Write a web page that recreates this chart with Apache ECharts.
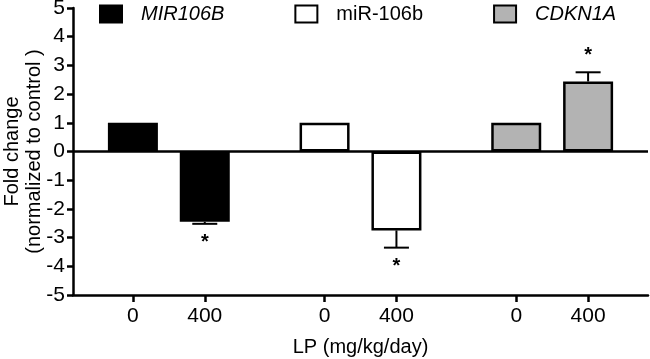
<!DOCTYPE html>
<html>
<head>
<meta charset="utf-8">
<script src="https://cdn.jsdelivr.net/npm/echarts@6/dist/echarts.min.js"></script>
<style>
  html, body { margin: 0; padding: 0; background: #fff; }
  #chart { width: 650px; height: 359px; }
</style>
</head>
<body>
<div id="chart"></div>
<script>
// values
const genes = ['MIR106B', 'miR-106b', 'CDKN1A'];
const italicGenes = ['MIR106B', 'CDKN1A'];
const doses = ['0', '400'];
const controlValues = [1, 1, 1];
const treatedValues = [-2.45, -2.75, 2.44];
const treatedErrors = [0.07, 0.6, 0.32];
const significant = [true, true, true];
const fills = ['#000000', '#ffffff', '#b3b3b3'];

// slot layout along x (each gene group takes 8 slots, bars sit mid-slot)
const slotsPerGroup = 8;
const firstSlot = 2;
const doseStep = 3;
const slotCount = genes.length * slotsPerGroup;

const posOf = (g, d) => g * slotsPerGroup + firstSlot + d * doseStep + 0.5;

const tickPositions = [];
const tickNames = {};
genes.forEach((g, gi) => {
    doses.forEach((d, di) => {
        tickPositions.push(posOf(gi, di));
        tickNames[posOf(gi, di)] = d;
    });
});

const font = "'Liberation Sans', Arial, sans-serif";

const barSeries = genes.map((name, gi) => {
    const s = {
        name: name,
        type: 'bar',
        data: [[posOf(gi, 0), controlValues[gi]], [posOf(gi, 1), treatedValues[gi]]],
        barWidth: 50,
        barGap: '-100%',
        itemStyle: { color: fills[gi], borderColor: '#000', borderWidth: 2.5 }
    };
    if (gi === 0) {
        s.markLine = {
            silent: true,
            symbol: 'none',
            label: { show: false },
            lineStyle: { color: '#000', width: 2.5, type: 'solid' },
            data: [{ yAxis: 0 }]
        };
    }
    return s;
});

const errData = genes.map((name, gi) => [posOf(gi, 1), treatedValues[gi], treatedErrors[gi], significant[gi] ? 1 : 0]);

const errSeries = {
    type: 'custom',
    data: errData,
    z: 5,
    renderItem: (params, api) => {
        const x = api.value(0);
        const v = api.value(1);
        const e = api.value(2);
        const dir = v < 0 ? -1 : 1;
        const p0 = api.coord([x, v]);
        const p1 = api.coord([x, v + dir * e]);
        const cap = 12.5;
        const style = { stroke: '#000', lineWidth: 2 };
        const children = [
            { type: 'line', shape: { x1: p0[0], y1: p0[1], x2: p1[0], y2: p1[1] }, style: style },
            { type: 'line', shape: { x1: p1[0] - cap, y1: p1[1], x2: p1[0] + cap, y2: p1[1] }, style: style }
        ];
        if (api.value(3)) {
            const ty = dir < 0 ? p1[1] + 19 : p1[1] - 17;
            children.push({
                type: 'text',
                x: p0[0],
                y: ty,
                style: {
                    text: '*', fill: '#000', font: 'bold 20px ' + font,
                    align: 'center', verticalAlign: 'middle'
                }
            });
        }
        return { type: 'group', children: children };
    }
};

const chart = echarts.init(document.getElementById('chart'), null, { renderer: 'canvas' });
chart.setOption({
    animation: false,
    textStyle: { fontFamily: font, color: '#000' },
    legend: {
        data: genes,
        left: 99,
        top: 4,
        padding: 0,
        icon: 'rect',
        itemWidth: 22,
        itemHeight: 17,
        itemGap: 70,
        selectedMode: false,
        formatter: name => (italicGenes.includes(name) ? '{i|' + name + '}' : '{n|' + name + '}'),
        textStyle: {
            fontSize: 20,
            color: '#000',
            rich: {
                i: { fontSize: 20, fontStyle: 'italic', fontFamily: font, padding: [0, 0, 0, 14] },
                n: { fontSize: 20, fontFamily: font, padding: [0, 0, 0, 14] }
            }
        }
    },
    grid: { left: 73, right: 2, top: 8, bottom: 64, outerBoundsMode: 'none', containLabel: false },
    xAxis: {
        type: 'value',
        min: 0,
        max: slotCount,
        name: 'LP (mg/kg/day)',
        nameLocation: 'middle',
        nameGap: 42,
        nameMoveOverlap: false,
        nameTextStyle: { fontSize: 20, color: '#000' },
        splitLine: { show: false },
        axisLine: { onZero: false, lineStyle: { color: '#000', width: 2.5 } },
        axisTick: {
            show: true,
            length: 7,
            customValues: tickPositions,
            lineStyle: { color: '#000', width: 2.5 }
        },
        axisLabel: {
            customValues: tickPositions,
            formatter: v => tickNames[v],
            fontSize: 21,
            color: '#000',
            margin: 11
        }
    },
    yAxis: {
        type: 'value',
        min: -5,
        max: 5,
        interval: 1,
        name: 'Fold change\n(normalized to control )',
        nameLocation: 'middle',
        nameGap: 28,
        nameMoveOverlap: false,
        nameTextStyle: { fontSize: 20, color: '#000', lineHeight: 22 },
        axisLine: { show: true, onZero: false, lineStyle: { color: '#000', width: 2.5 } },
        axisTick: { show: true, length: 6, lineStyle: { color: '#000', width: 2.5 } },
        axisLabel: { fontSize: 21, color: '#000', margin: 8 },
        splitLine: { show: false }
    },
    series: barSeries.concat([errSeries])
});
</script>
</body>
</html>
